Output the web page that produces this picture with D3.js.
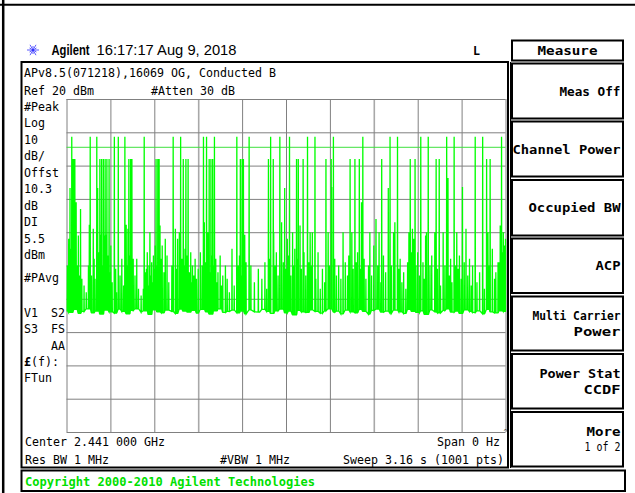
<!DOCTYPE html>
<html>
<head>
<meta charset="utf-8">
<script src="https://cdn.jsdelivr.net/npm/d3@7"></script>
<style>
  body { margin: 0; background: #fff; }
  svg { display: block; }
</style>
</head>
<body>
<div id="screen"></div>
<script>
// Sweep: 1001 points, zero span. Levels in dBm, ref 20 dBm, 10 dB/div
const sweepPoints = 1000;
const refLevel = 20;
const dbPerDiv = 10;
const displayLine = 5.5;

// tall bursts (flat at ~8.7 dBm) and second level bursts (~2 dBm), by sweep index
const topDbm = 8.7;
const midDbm = 2.0;
const sweepTop = [12, 54, 69, 109, 118, 133, 177, 243, 260, 312, 319, 337, 388, 416, 465, 486, 508,
  549, 566, 608, 675, 737, 754, 807, 824, 866, 883, 931, 948, 991];
const sweepMid = [14, 17, 19, 76, 80, 84, 88, 92, 97, 142, 146, 149, 204, 208, 211, 266, 272, 277,
  325, 329, 333, 396, 400, 403, 460, 471, 524, 528, 539, 591, 603, 646, 657, 667, 718, 783, 794,
  842, 849, 957, 965];

// smaller spikes [sweep index, dBm]
const clutter = [
  [2, -30], [5, -22], [8, -6.7], [10, -25], [22, -11], [24, -30], [27, -21], [29, -33], [32, -13], [35, -34],
  [40, -36], [45, -38], [50, -30], [52, -17.8], [57, -33], [61, -19],
  [63, -28], [65, -34], [71, -6.7], [74, -26], [78, -20.8], [82, -30], [86, -21], [90, -20.8], [94, -27], [99, -32], [101, -24],
  [104, -35], [112, -31], [114, -38], [122, -33], [126, -28], [130, -36],
  [136, -17.8], [138, -30], [140, -19], [144, -27], [152, -28], [156, -33], [160, -28], [164, -37],
  [170, -39], [175, -37],
  [180, -32], [182, -31], [184, -26], [186, -36], [188, -30], [190, -20], [192, -33], [194, -29], [196, -35],
  [198, -27], [200, -31], [202, -24], [206, -30], [213, -18],
  [216, -28], [218, -24], [222, -32], [225, -22], [229, -27], [233, -35],
  [240, -30], [248, -19], [250, -31], [253, -22], [257, -20],
  [262, -30], [263, -28], [265, -33], [268, -30], [270, -25], [273, -31], [275, -27], [278, -34], [280, -32],
  [283, -26], [285, -35], [287, -30], [290, -33], [293, -28], [296, -34],
  [300, -31], [305, -26], [309, -30], [314, -17], [317, -29], [322, -20], [327, -32], [331, -27], [335, -30], [340, -28], [343, -35],
  [345, -32], [350, -27], [353, -36], [356, -33], [362, -30], [366, -34], [371, -38], [377, -25],
  [382, -36], [391, -30], [394, -27], [398, -33], [401, -20.8], [406, -20.8], [409, -29],
  [420, -30], [428, -35], [437, -31], [445, -34], [452, -29], [456, -37],
  [462, -28], [472, -20], [475, -30], [478, -26], [482, -33], [490, -17], [494, -29], [497, -6.7], [500, -31],
  [503, -22], [506, -27], [511, -33], [515, -20],
  [518, -30], [520, -25], [526, -28], [532, -18], [535, -31], [541, -26], [545, -33], [552, -29], [555, -20], [558, -30], [560, -20],
  [568, -34], [573, -26], [578, -37], [583, -31], [588, -35],
  [596, -20], [599, -30], [604, -6.4], [611, -28], [615, -33], [620, -30], [625, -34], [630, -20], [635, -29], [640, -33], [643, -27],
  [650, -20], [653, -31], [660, -29], [663, -26], [670, -31], [672, -11], [678, -28], [682, -34],
  [688, -30], [691, -20], [695, -33], [700, -24], [705, -16], [709, -30], [712, -20], [716, -35], [722, -27], [727, -32], [733, -6.7], [740, -30],
  [745, -20], [748, -17], [757, -31], [760, -28], [764, -35], [768, -32], [773, -37], [777, -29],
  [780, -20], [786, -26], [788, -19], [791, -22], [796, -30], [800, -26], [804, -33], [812, -29], [815, -34], [818, -21], [820, -20], [828, -30], [832, -27],
  [839, -20], [845, -31], [852, -36], [858, -20], [862, -30], [869, -3.7], [872, -33], [875, -28], [878, -35],
  [886, -30], [889, -20], [892, -31], [895, -27], [899, -34], [902, -6.4], [906, -29], [910, -19], [914, -33], [918, -28],
  [922, -36], [925, -30], [935, -35], [941, -32], [952, -37], [960, -20], [963, -30], [970, -25], [975, -34], [978, -32],
  [983, -29], [985, -29], [988, -18], [990, -31], [993, -26], [995, -20], [998, -24], [1000, -22]
];

// noise floor, one reading every 10 sweep points
const floorDbm = [
  -43.6, -44.1, -43.2, -44.4, -43.8, -43.0, -44.2, -43.7, -44.6, -43.4,
  -43.9, -44.3, -43.1, -43.8, -44.5, -43.5, -43.0, -44.0, -43.6, -44.7,
  -43.3, -43.9, -44.2, -43.4, -43.8, -44.4, -43.1, -43.7, -44.0, -43.5,
  -44.3, -43.2, -43.9, -44.6, -43.6, -43.0, -44.1, -43.8, -43.4, -44.2,
  -43.7, -44.5, -43.3, -43.9, -44.0, -43.2, -43.8, -44.4, -43.6, -43.1,
  -44.2, -43.7, -44.8, -43.5, -43.9, -44.1, -43.3, -43.8, -44.3, -43.6,
  -43.0, -44.0, -43.7, -44.5, -43.4, -43.9, -44.2, -43.2, -43.8, -44.6,
  -43.5, -43.1, -44.0, -43.7, -44.3, -43.4, -43.9, -44.4, -43.2, -43.8,
  -44.1, -43.6, -44.7, -43.3, -43.9, -44.2, -43.5, -43.0, -44.0, -43.7,
  -44.4, -43.3, -43.8, -44.1, -43.6, -44.5, -43.2, -43.9, -44.2, -43.6, -43.8
];

// annotation texts
const header = { brand: 'Agilent', stamp: '16:17:17  Aug 9, 2018', mark: 'L' };
const topLines = ['APv8.5(071218),16069 OG, Conducted B'];
const leftLabels = ['#Peak', 'Log', '10', 'dB/', 'Offst', '10.3', 'dB', 'DI', '5.5', 'dBm'];
const softkeys = [['Meas Off'], ['Channel Power'], ['Occupied BW'], ['ACP'],
  ['Multi Carrier', 'Power'], ['Power Stat', 'CCDF'], ['More', '1 of 2']];

const W = 635, H = 493;
const mono = '"DejaVu Sans Mono", monospace';
const sans = '"Liberation Sans", Arial, sans-serif';

let svg = d3.select('#screen').append('svg')
  .attr('width', W)
  .attr('height', H);

svg.append('rect').attr('width', W).attr('height', H).attr('fill', '#fff');

// text helper
function txt(x, y, s, o) {
  o = o || {};
  let t = svg.append('text')
    .attr('x', x)
    .attr('y', y)
    .attr('dominant-baseline', 'central')
    .attr('text-anchor', o.anchor || 'start')
    .attr('fill', o.fill || '#000')
    .style('font-family', o.family || mono)
    .style('font-size', (o.size || 12.5) + 'px')
    .style('font-weight', o.weight || 'normal')
    .text(s);
  let w = o.width !== undefined ? o.width : (o.family ? null : s.length * 7);
  if (w) t.attr('textLength', w).attr('lengthAdjust', 'spacingAndGlyphs');
  return t;
}

// outer frame
svg.append('line').attr('x1', 0).attr('x2', W).attr('y1', 4.8).attr('y2', 4.8)
  .attr('stroke', '#000').attr('stroke-width', 2);
svg.append('line').attr('x1', 3.2).attr('x2', 3.2).attr('y1', 0).attr('y2', H)
  .attr('stroke', '#000').attr('stroke-width', 2.5);

// Agilent spark logo
let spark = svg.append('g').attr('transform', 'translate(33,50)');
d3.range(0, 360, 30).forEach(function(a) {
  let r = a * Math.PI / 180;
  spark.append('line')
    .attr('x1', Math.cos(r) * 1.5).attr('y1', Math.sin(r) * 1.5)
    .attr('x2', Math.cos(r) * (a % 60 ? 4 : 6)).attr('y2', Math.sin(r) * (a % 60 ? 4 : 6))
    .attr('stroke', '#5a5aff').attr('stroke-width', 1);
});
spark.append('circle').attr('r', 1.5).attr('fill', '#3030ff');

txt(51.5, 50, header.brand, { family: sans, weight: 'bold', size: 14, width: 38 });
txt(96.5, 50, header.stamp, { family: sans, size: 14, width: 140 });
txt(473, 50, header.mark, { weight: 'bold', size: 13, width: 7 });

// main display box
svg.append('rect').attr('x', 21.5).attr('y', 62).attr('width', 486.5).attr('height', 405.5)
  .attr('fill', 'none').attr('stroke', '#000').attr('stroke-width', 2);
svg.append('line').attr('x1', 510.5).attr('x2', 510.5).attr('y1', 62).attr('y2', 468)
  .attr('stroke', '#000').attr('stroke-width', 1);

txt(24, 72, topLines[0]);
txt(24, 90.5, 'Ref 20 dBm');
txt(151, 90.5, '#Atten 30 dB');

leftLabels.forEach(function(s, i) {
  txt(24, 106 + i * 16.5, s);
});
txt(24, 277, '#PAvg');
txt(24, 312, 'V1');
txt(65, 312, 'S2', { anchor: 'end' });
txt(24, 328.5, 'S3');
txt(65, 328.5, 'FS', { anchor: 'end' });
txt(65, 345, 'AA', { anchor: 'end' });
let lf = txt(24, 361, '', { width: 0 });
lf.append('tspan').style('font-weight', 'bold').text('£');
lf.append('tspan').text('(f):');
lf.attr('textLength', 35).attr('lengthAdjust', 'spacingAndGlyphs');
txt(24, 377, 'FTun');

txt(25, 441, 'Center 2.441 000 GHz');
txt(500, 442, 'Span 0 Hz', { anchor: 'end', size: 12 });
txt(503.5, 432, '^', { size: 7, width: 4 });
txt(25, 459, 'Res BW 1 MHz');
txt(220, 459, '#VBW 1 MHz');
txt(504, 459, 'Sweep 3.16 s (1001 pts)', { anchor: 'end' });

// copyright bar
svg.append('rect').attr('x', 21.5).attr('y', 470.5).attr('width', 603.5).attr('height', 20.5)
  .attr('fill', 'none').attr('stroke', '#000').attr('stroke-width', 2);
txt(25, 481, 'Copyright 2000-2010 Agilent Technologies', { weight: 'bold', fill: '#00e000', width: 290 });

// soft keys
const keyBoxes = [[63.5, 118.5], [121.5, 176.5], [180, 235.5], [238.5, 293], [296.5, 350.5], [354, 408.5], [412, 466.5]];
const keyWidths = [[61], [108], [92], [25], [88, 47], [81, 37], [34, 36]];
svg.append('rect').attr('x', 512).attr('y', 40.5).attr('width', 111).attr('height', 20)
  .attr('fill', 'none').attr('stroke', '#000').attr('stroke-width', 2);
txt(567.5, 50.5, 'Measure', { weight: 'bold', size: 13, width: 60, anchor: 'middle' });
softkeys.forEach(function(k, i) {
  let b = keyBoxes[i];
  svg.append('rect').attr('x', 512).attr('y', b[0]).attr('width', 111).attr('height', b[1] - b[0])
    .attr('fill', 'none').attr('stroke', '#000').attr('stroke-width', 2);
  let mid = (b[0] + b[1]) / 2;
  if (k.length === 1) {
    txt(620.5, mid, k[0], { weight: 'bold', size: 13, width: keyWidths[i][0], anchor: 'end' });
  } else {
    txt(620.5, mid - 8, k[0], { weight: 'bold', size: 13, width: keyWidths[i][0], anchor: 'end' });
    txt(620.5, mid + 8, k[1], { weight: i === 6 ? 'normal' : 'bold', size: i === 6 ? 12 : 13,
      width: keyWidths[i][1], anchor: 'end' });
  }
});

// graticule
let x = d3.scaleLinear().domain([0, sweepPoints]).range([66.5, 505.5]);
let y = d3.scaleLinear().domain([refLevel - 10 * dbPerDiv, refLevel]).range([432, 99]);

let grid = svg.append('g');
grid.append('g')
  .attr('transform', 'translate(0,432)')
  .call(d3.axisBottom(x).tickValues(d3.range(0, 1001, 100)).tickSize(-333).tickFormat(''))
  .call(function(g) { g.select('.domain').remove(); });
grid.append('g')
  .attr('transform', 'translate(66.5,0)')
  .call(d3.axisLeft(y).tickValues(d3.range(-80, 21, 10)).tickSize(-439).tickFormat(''))
  .call(function(g) { g.select('.domain').remove(); });
grid.selectAll('line').attr('stroke', '#808080').attr('stroke-width', 1);
grid.selectAll('.tick').filter(function(d) { return d === 300 || d === 700; })
  .select('line').attr('stroke', '#a8a8a8').attr('stroke-width', 1.6);

// display line
svg.append('line')
  .attr('x1', x(0)).attr('x2', x(sweepPoints))
  .attr('y1', y(displayLine)).attr('y2', y(displayLine))
  .attr('stroke', '#3ee03e').attr('stroke-width', 1);

// trace points: floor readings plus each spike rising from the floor
let spikes = sweepTop.map(function(i) { return [i, topDbm]; })
  .concat(sweepMid.map(function(i) { return [i, midDbm]; }))
  .concat(clutter);
let taken = new Set();
spikes.forEach(function(s) { taken.add(s[0] - 1); taken.add(s[0]); taken.add(s[0] + 1); });

let pts = [];
floorDbm.forEach(function(v, k) {
  if (!taken.has(k * 10)) pts.push([k * 10, v]);
});
spikes.forEach(function(s) {
  let base = floorDbm[Math.round(s[0] / 10)];
  pts.push([Math.max(0, s[0] - 0.45), base]);
  pts.push([s[0], s[1]]);
  pts.push([Math.min(sweepPoints, s[0] + 0.45), base]);
});
pts.sort(function(a, b) { return a[0] - b[0]; });

let line = d3.line()
  .x(function(d) { return x(d[0]); })
  .y(function(d) { return y(d[1]); });

svg.append('path')
  .datum(pts)
  .attr('d', line)
  .attr('fill', 'none')
  .attr('stroke', '#00ff00')
  .attr('stroke-width', 1.3);
</script>
</body>
</html>
